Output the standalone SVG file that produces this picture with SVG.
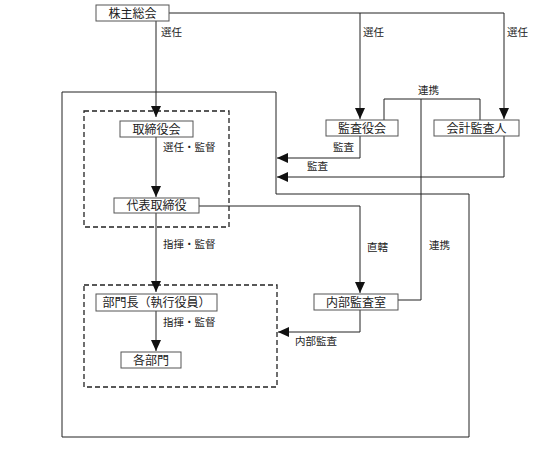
<svg xmlns="http://www.w3.org/2000/svg" width="533" height="453" viewBox="0 0 533 453">
<style>
.box{fill:#fff;stroke:#555;stroke-width:1}
.dash{fill:none;stroke:#222;stroke-width:1.3;stroke-dasharray:5,3}
.line{fill:none;stroke:#222;stroke-width:1}
.bt{font-family:"Noto Sans CJK JP","Noto Sans",sans-serif;font-size:12px;fill:#222;text-anchor:middle}
.lb{font-family:"Noto Sans CJK JP","Noto Sans",sans-serif;font-size:10.5px;fill:#222}
</style>
<defs>
<marker id="ah" markerUnits="userSpaceOnUse" markerWidth="12" markerHeight="12" viewBox="0 0 12 12" refX="11" refY="6" orient="auto">
<path d="M0,1 L11,6 L0,11 Z" fill="#111"/>
</marker>
</defs>
<g id="frames">
<path class="line" d="M62,92 H276 V194 H469 V437 H62 Z" stroke-width="1.2"/>
<rect class="dash" x="84" y="111" width="145" height="116"/>
<rect class="dash" x="84" y="285" width="193" height="102"/>
</g>
<g id="connectors">
<path class="line" d="M156,21 V117" marker-end="url(#ah)"/>
<path class="line" d="M169,13 H504 V119" marker-end="url(#ah)"/>
<path class="line" d="M360,13 V119" marker-end="url(#ah)"/>
<path class="line" d="M156,137 V197" marker-end="url(#ah)"/>
<path class="line" d="M199,206 H360 V293" marker-end="url(#ah)"/>
<path class="line" d="M156,213 V292" marker-end="url(#ah)"/>
<path class="line" d="M156,311 V351" marker-end="url(#ah)"/>
<path class="line" d="M360,136 V158 H277" marker-end="url(#ah)"/>
<path class="line" d="M504,136 V177 H277" marker-end="url(#ah)"/>
<path class="line" d="M384,120 V99 H480 V120"/>
<path class="line" d="M421,99 V300 H398"/>
<path class="line" d="M360,310 V332 H278" marker-end="url(#ah)"/>
<text class="lb" x="161" y="36">選任</text>
<text class="lb" x="363" y="36">選任</text>
<text class="lb" x="507" y="36">選任</text>
<text class="lb" x="418" y="94">連携</text>
<text class="lb" x="333" y="151">監査</text>
<text class="lb" x="307" y="170">監査</text>
<text class="lb" x="163" y="151">選任・監督</text>
<text class="lb" x="163" y="248">指揮・監督</text>
<text class="lb" x="367" y="251">直轄</text>
<text class="lb" x="429" y="249">連携</text>
<text class="lb" x="163" y="326">指揮・監督</text>
<text class="lb" x="295" y="345">内部監査</text>
</g>
<g id="shareholders"><rect class="box" x="96" y="5" width="73" height="16"/><text class="bt" x="132.5" y="17.5">株主総会</text></g>
<g id="board"><rect class="box" x="120" y="121" width="73" height="16"/><text class="bt" x="156.5" y="133.5">取締役会</text></g>
<g id="auditors"><rect class="box" x="326" y="120" width="72" height="16"/><text class="bt" x="362" y="132.5">監査役会</text></g>
<g id="accounting-auditor"><rect class="box" x="434" y="120" width="85" height="16"/><text class="bt" x="476.5" y="132.5">会計監査人</text></g>
<g id="representative"><rect class="box" x="114" y="198" width="85" height="15"/><text class="bt" x="156.5" y="210">代表取締役</text></g>
<g id="internal-audit"><rect class="box" x="314" y="294" width="84" height="16"/><text class="bt" x="356" y="306.5">内部監査室</text></g>
<g id="division-head"><rect class="box" x="96" y="294" width="121" height="17"/><text class="bt" x="156.5" y="307">部門長（執行役員）</text></g>
<g id="divisions"><rect class="box" x="121" y="352" width="60" height="16"/><text class="bt" x="151" y="364.5">各部門</text></g>
</svg>
